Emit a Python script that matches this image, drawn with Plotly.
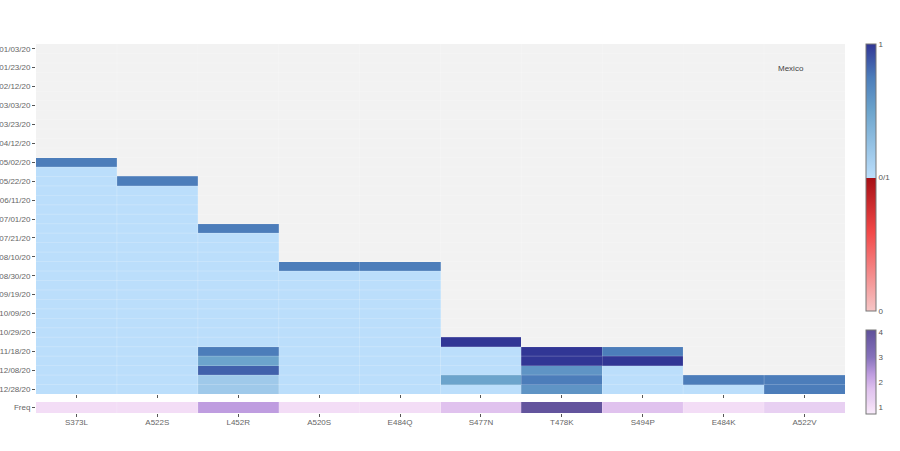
import plotly.graph_objects as go
from plotly.subplots import make_subplots

N = None

mutations = ['S373L', 'A522S', 'L452R', 'A520S', 'E484Q', 'S477N', 'T478K', 'S494P', 'E484K', 'A522V']
dates = ['01/03/20', '01/13/20', '01/23/20', '02/02/20', '02/12/20', '02/22/20', '03/03/20', '03/13/20',
         '03/23/20', '04/02/20', '04/12/20', '04/22/20', '05/02/20', '05/12/20', '05/22/20', '06/01/20',
         '06/11/20', '06/21/20', '07/01/20', '07/11/20', '07/21/20', '07/31/20', '08/10/20', '08/20/20',
         '08/30/20', '09/09/20', '09/19/20', '09/29/20', '10/09/20', '10/19/20', '10/29/20', '11/08/20',
         '11/18/20', '11/28/20', '12/08/20', '12/18/20', '12/28/20']
date_ticks = dates[::2]

# each column runs from the first date to the last one, None = not seen yet
s373l = [N, N, N, N, N, N, N, N, N, N, N, N, .75, 0, 0, 0, 0, 0, 0, 0, 0, 0, 0, 0, 0, 0, 0, 0, 0, 0, 0, 0, 0, 0, 0, 0, 0]
a522s = [N, N, N, N, N, N, N, N, N, N, N, N, N, N, .75, 0, 0, 0, 0, 0, 0, 0, 0, 0, 0, 0, 0, 0, 0, 0, 0, 0, 0, 0, 0, 0, 0]
l452r = [N, N, N, N, N, N, N, N, N, N, N, N, N, N, N, N, N, N, N, .75, 0, 0, 0, 0, 0, 0, 0, 0, 0, 0, 0, 0, .75, .5, .85, .18, .18]
a520s = [N, N, N, N, N, N, N, N, N, N, N, N, N, N, N, N, N, N, N, N, N, N, N, .75, 0, 0, 0, 0, 0, 0, 0, 0, 0, 0, 0, 0, 0]
e484q = [N, N, N, N, N, N, N, N, N, N, N, N, N, N, N, N, N, N, N, N, N, N, N, .75, 0, 0, 0, 0, 0, 0, 0, 0, 0, 0, 0, 0, 0]
s477n = [N, N, N, N, N, N, N, N, N, N, N, N, N, N, N, N, N, N, N, N, N, N, N, N, N, N, N, N, N, N, N, 1, 0, 0, 0, .5, 0]
t478k = [N, N, N, N, N, N, N, N, N, N, N, N, N, N, N, N, N, N, N, N, N, N, N, N, N, N, N, N, N, N, N, N, 1, 1, .6, .75, .6]
s494p = [N, N, N, N, N, N, N, N, N, N, N, N, N, N, N, N, N, N, N, N, N, N, N, N, N, N, N, N, N, N, N, N, .75, 1, 0, 0, 0]
e484k = [N, N, N, N, N, N, N, N, N, N, N, N, N, N, N, N, N, N, N, N, N, N, N, N, N, N, N, N, N, N, N, N, N, N, N, .75, 0]
a522v = [N, N, N, N, N, N, N, N, N, N, N, N, N, N, N, N, N, N, N, N, N, N, N, N, N, N, N, N, N, N, N, N, N, N, N, .75, .75]
freq = [1, 1, 2.3, 1, 1, 1.7, 4, 1.7, 1, 1.3]

columns = [s373l, a522s, l452r, a520s, e484q, s477n, t478k, s494p, e484k, a522v]
z_rows = [[c[i] for c in columns] for i in range(len(dates))]

trend_scale = [[0, '#f6c6c6'], [0.296, '#f24848'], [0.4999, '#a50f15'],
               [0.5, '#bbdefb'], [0.75, '#6ca4cc'], [0.875, '#4c7dba'], [1, '#313695']]
freq_scale = [[0, '#f8ecfb'], [0.088, '#f3ddf6'], [0.176, '#e8d0f2'], [0.294, '#e0c2ee'], [0.47, '#bf9de0'],
              [0.676, '#8672bb'], [0.97, '#63549d'], [1, '#5f5299']]

fig = make_subplots(rows=2, cols=1, shared_xaxes=True)

fig.add_trace(go.Heatmap(
    z=z_rows, x=mutations, y=dates, zmin=-1, zmax=1, colorscale=trend_scale, hoverongaps=False,
    colorbar=dict(tickmode='array', tickvals=[-1, 0, 1], ticktext=['0', '0/1', '1'], len=0.7236,
                  y=1.0, yanchor='top', ypad=0, x=1.0247, xanchor='left', xpad=0, thickness=10, ticks='',
                  outlinewidth=1, outlinecolor='#777777', tickfont=dict(size=8, color='#555555')),
), row=1, col=1)

fig.add_trace(go.Heatmap(
    z=[freq], x=mutations, y=['Freq'], zmin=0.7, zmax=4.1, colorscale=freq_scale,
    colorbar=dict(tickmode='array', tickvals=[1, 2, 3, 4], len=0.228,
                  y=-0.003, yanchor='bottom', ypad=0, x=1.0247, xanchor='left', xpad=0, thickness=10, ticks='',
                  outlinewidth=1, outlinecolor='#777777', tickfont=dict(size=8, color='#555555')),
), row=2, col=1)

fig.update_xaxes(showgrid=False, zeroline=False, ticks='outside', ticklen=3, tickcolor='#555555',
                 tickfont=dict(size=8, color='#666666'), automargin=False, ticklabelstandoff=-2)
fig.update_xaxes(showticklabels=False, row=1, col=1)
fig.update_yaxes(showgrid=False, zeroline=False, ticks='outside', ticklen=3, tickcolor='#555555',
                 tickfont=dict(size=8, color='#666666'), automargin=False)
fig.update_yaxes(domain=[0.0515, 1], autorange='reversed', type='category', tickmode='array',
                 tickvals=date_ticks, ticktext=date_ticks, row=1, col=1)
fig.update_yaxes(domain=[0, 0.0298], row=2, col=1)

# faint cell borders on top of the heatmaps
border = dict(color='white', width=0.6)
for i in range(len(mutations) - 1):
    fig.add_shape(type='line', xref='x', yref='y domain', x0=i + 0.5, x1=i + 0.5, y0=0, y1=1,
                  line=border, opacity=0.35)
    fig.add_shape(type='line', xref='x2', yref='y2 domain', x0=i + 0.5, x1=i + 0.5, y0=0, y1=1,
                  line=border, opacity=0.35)
for i in range(len(dates) - 1):
    fig.add_shape(type='line', xref='x domain', yref='y', x0=0, x1=1, y0=i + 0.5, y1=i + 0.5,
                  line=border, opacity=0.35)

fig.add_annotation(x=0.933, y=0.934, xref='paper', yref='paper', xanchor='center', yanchor='middle',
                   text='Mexico', showarrow=False, font=dict(size=8, color='#444444'))

fig.update_layout(
    width=900, height=451, margin=dict(l=36, r=54, t=44, b=38),
    plot_bgcolor='#f2f2f2', paper_bgcolor='white',
    font=dict(family='Liberation Sans, Arial, sans-serif', size=8),
)

# the page's default body margin would shift the whole figure
fig.write_html("out.html", config=dict(displayModeBar=False),
               post_script="document.body.style.margin = '0';")
